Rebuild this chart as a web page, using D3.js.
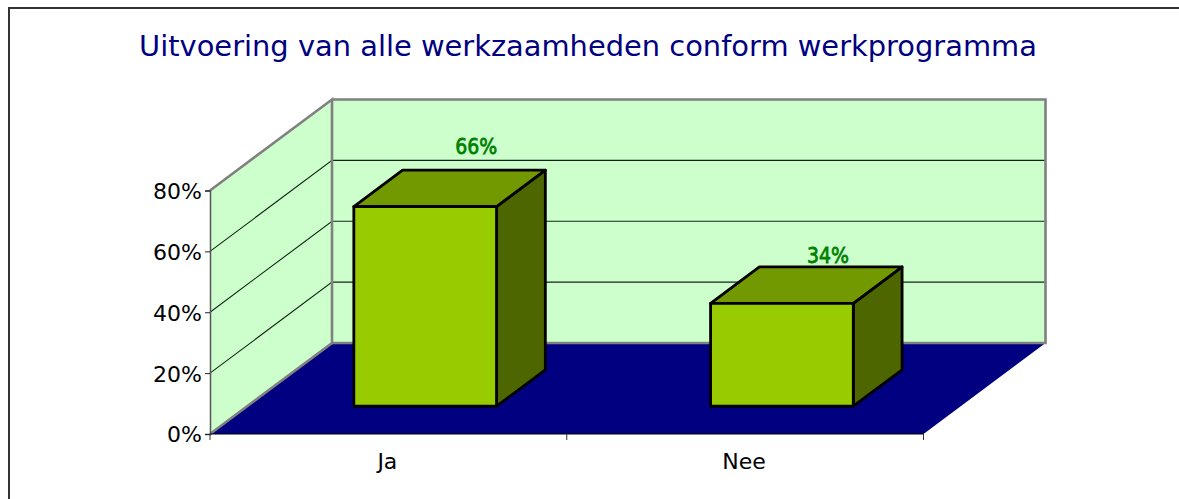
<!DOCTYPE html>
<html><head><meta charset="utf-8">
<script src="https://cdn.jsdelivr.net/npm/d3@7"></script>
<style>html,body{margin:0;padding:0;background:#fff}svg{display:block}text{font-family:"DejaVu Sans",sans-serif}</style>
</head><body><svg id="c" width="1179" height="499"></svg>
<script>
const titleText = "Uitvoering van alle werkzaamheden conform werkprogramma";
const categories = ["Ja", "Nee"];
const values = [65.6, 33.8];
const yTicks = [0, 20, 40, 60, 80];
const C = {wall:"#CCFFCC", floor:"#000080", bar:"#99CC00", top:"#739900", side:"#4D6600", wallEdge:"#808080", label:"#008000", title:"#000080"};

const svg = d3.select("#c");
const x0 = 210, x1 = 923.5;
const x = d3.scaleBand().domain(categories).range([x0 - 0.4, x1 - 0.4]).paddingInner(0.6).paddingOuter(0.3);
const xOuter = d3.scaleBand().domain(categories).range([x0, x1]);
const y = d3.scaleLinear().domain([0, 80]).range([434, 190.5]);
const DX = 122, DY = -91;
const depthFront = 0.305, depthBack = 0.705;
const pt = (px, py, d) => [px + DX * d, py + DY * d];
const poly = pts => "M" + pts.map(p => p.join(",")).join("L") + "Z";
const open = pts => "M" + pts.map(p => p.join(",")).join("L");

// chart frame: only the left and top edges fall inside the picture
svg.append("path").attr("d", "M9,499V8H1179").attr("fill", "none").attr("stroke", "#333").attr("stroke-width", 2);

// title
svg.append("text").attr("x", 588).attr("y", 56).attr("text-anchor", "middle").attr("font-size", 28.9).attr("fill", C.title).text(titleText);

// floor
svg.append("path").attr("d", poly([pt(x0, y(0), 0), pt(x1, y(0), 0), pt(x1, y(0), 1), pt(x0, y(0), 1)])).attr("fill", C.floor);
// walls
svg.append("path").attr("d", poly([pt(x0, y(0), 0), pt(x0, y(80), 0), pt(x0, y(80), 1), pt(x0, y(0), 1)])).attr("fill", C.wall);
svg.append("path").attr("d", poly([pt(x0, y(0), 1), pt(x0, y(80), 1), pt(x1, y(80), 1), pt(x1, y(0), 1)])).attr("fill", C.wall);
// gridlines
yTicks.filter(t => t > 0 && t < 80).forEach(t => {
  svg.append("path").attr("d", open([pt(x0, y(t), 0), pt(x0, y(t), 1), pt(x1, y(t), 1)]))
    .attr("fill", "none").attr("stroke", "#14241a").attr("stroke-width", 1.1);
});
// wall edges
svg.append("path").attr("d", open([pt(x0, y(0), 0), pt(x0, y(0), 1), pt(x0, y(80), 1), pt(x0, y(80), 0)]))
  .attr("fill", "none").attr("stroke", C.wallEdge).attr("stroke-width", 2.6);
svg.append("path").attr("d", open([pt(x0, y(80), 1), pt(x1, y(80), 1), pt(x1, y(0), 1), pt(x0, y(0), 1)]))
  .attr("fill", "none").attr("stroke", C.wallEdge).attr("stroke-width", 2.6);

// axes
const yAxis = d3.axisLeft(y).tickValues(yTicks).tickSize(5).tickPadding(3).tickFormat(d => d + "%");
const gy = svg.append("g").attr("transform", "translate(" + x0 + ",0)").call(yAxis);
gy.select(".domain").attr("stroke", "#555").attr("stroke-width", 1.5);
gy.selectAll(".tick line").attr("stroke", "#222");
gy.selectAll("text").attr("font-size", 22).attr("fill", "#000").attr("dy", "0.36em");
const xEdges = [x0, (x0 + x1) / 2, x1];
svg.append("path").attr("d", "M" + x0 + "," + y(0) + "H" + x1).attr("stroke", "#000").attr("fill", "none");
svg.selectAll(".xt").data(xEdges).join("line").attr("x1", d => d).attr("x2", d => d).attr("y1", y(0)).attr("y2", y(0) + 6).attr("stroke", "#333");
svg.selectAll(".xl").data(categories).join("text").attr("x", d => xOuter(d) + xOuter.bandwidth() / 2 - 1)
  .attr("y", 469).attr("text-anchor", "middle").attr("font-size", 22).attr("fill", "#000").text(d => d);

// bars
const labelNudge = [[-69, -16], [-74, -4]];
categories.forEach((c, i) => {
  const l = x(c), r = l + x.bandwidth(), t = y(values[i]), b = y(0);
  const g = svg.append("g").attr("stroke", "#000").attr("stroke-width", 2.8).attr("stroke-linejoin", "round");
  g.append("path").attr("d", poly([pt(r, b, depthFront), pt(r, b, depthBack), pt(r, t, depthBack), pt(r, t, depthFront)])).attr("fill", C.side);
  g.append("path").attr("d", poly([pt(l, t, depthFront), pt(r, t, depthFront), pt(r, t, depthBack), pt(l, t, depthBack)])).attr("fill", C.top);
  g.append("path").attr("d", poly([pt(l, b, depthFront), pt(r, b, depthFront), pt(r, t, depthFront), pt(l, t, depthFront)])).attr("fill", C.bar);
  const lp = pt(r, t, depthBack);
  const w = 42;
  svg.append("text").attr("x", lp[0] + labelNudge[i][0] - w / 2).attr("y", lp[1] + labelNudge[i][1])
    .attr("font-size", 22).attr("textLength", w).attr("lengthAdjust", "spacingAndGlyphs")
    .attr("fill", C.label).attr("stroke", C.label).attr("stroke-width", 0.8)
    .text(Math.round(values[i]) + "%");
});
</script></body></html>
